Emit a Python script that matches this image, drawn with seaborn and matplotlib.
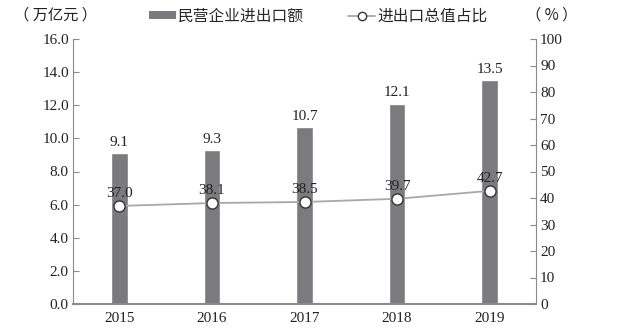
import matplotlib
matplotlib.use("Agg")
import matplotlib.pyplot as plt
import seaborn as sns
import pandas as pd
from matplotlib.patches import Patch
from matplotlib.lines import Line2D

years = ["2015", "2016", "2017", "2018", "2019"]
amount = [9.1, 9.3, 10.7, 12.1, 13.5]
share = [37.0, 38.1, 38.5, 39.7, 42.7]
left_ticks = [0, 2, 4, 6, 8, 10, 12, 14, 16]
right_ticks = [0, 10, 20, 30, 40, 50, 60, 70, 80, 90, 100]

sns.set_style("white")
plt.rcParams['font.family'] = ['Liberation Serif', 'Noto Sans CJK SC', 'DejaVu Sans']
cjk = ['Noto Sans CJK SC', 'DejaVu Sans']

df = pd.DataFrame({"year": years, "amount": amount, "share": share})

fig = plt.figure(figsize=(6.18, 3.36), dpi=100)
ax = fig.add_axes([73/618, 32/336, (536-73)/618, (304-39)/336])
bar_color = "#7b7b7d"
line_color = "#a8a8a8"
spine_color = "#8a8a8a"
txt = "#222222"
fs = 11

sns.barplot(data=df, x="year", y="amount", color=bar_color, width=0.18, ax=ax, saturation=1)
ax.set_xlim(-0.5, 4.5)
ax.set_ylim(0, 16)
ax.set_yticks(left_ticks)
ax.set_yticklabels([f"{v:.1f}" for v in left_ticks])
ax.set_xlabel("")
ax.set_ylabel("")
for i, v in enumerate(amount):
    ax.annotate(f"{v:.1f}", (i, v), xytext=(0, 3), textcoords="offset points",
                ha="center", va="bottom", fontsize=fs, color=txt)

ax2 = ax.twinx()
sns.lineplot(x=list(range(len(years))), y=share, ax=ax2, color=line_color, lw=1.3,
             marker="o", markersize=8, markerfacecolor="white", markeredgecolor="#333333",
             markeredgewidth=1.0)
ax2.set_ylim(0, 100)
ax2.set_yticks(right_ticks)
ax2.set_xlim(-0.5, 4.5)
for i, v in enumerate(share):
    ax2.annotate(f"{v:.1f}", (i, v), xytext=(0, 4.5), textcoords="offset points",
                 ha="center", va="bottom", fontsize=fs, color=txt)

for a in (ax, ax2):
    for s in a.spines.values():
        s.set_visible(False)
ax.spines['left'].set_visible(True)
ax.spines['left'].set_color(spine_color)
ax.spines['bottom'].set_visible(True)
ax.spines['bottom'].set_color(spine_color)
ax.spines['bottom'].set_linewidth(1.5)
ax2.spines['right'].set_visible(True)
ax2.spines['right'].set_color(spine_color)

ax.tick_params(axis='y', direction='in', length=4, color=spine_color, labelsize=fs,
               labelcolor=txt, left=True, pad=3)
ax.tick_params(axis='x', length=0, labelsize=fs, labelcolor=txt, pad=6)
ax2.tick_params(axis='y', direction='in', length=4, color=spine_color, labelsize=fs,
                labelcolor=txt, right=True, pad=3)

fig.text(55/618, 1 - 15/336, "（ 万亿元 ）", fontsize=11, family=cjk, va="center", ha="center", color=txt)
fig.text(552/618, 1 - 15/336, "（ % ）", fontsize=11, family=cjk, va="center", ha="center", color=txt)

handles = [Patch(facecolor=bar_color, edgecolor="none"),
           Line2D([0], [0], color=line_color, lw=1.3, marker="o", markersize=6,
                  markerfacecolor="white", markeredgecolor="#333333")]
labels = ["民营企业进出口额", "进出口总值占比"]
leg = fig.legend(handles, labels, loc="center left", bbox_to_anchor=(149/618, 1 - 16/336), ncol=2,
                 frameon=False, prop={'family': cjk, 'size': 11.3}, handlelength=1.72,
                 handleheight=0.4, columnspacing=2.8, handletextpad=0.15,
                 borderpad=0, borderaxespad=0)

fig.savefig("out.png", dpi=100)
